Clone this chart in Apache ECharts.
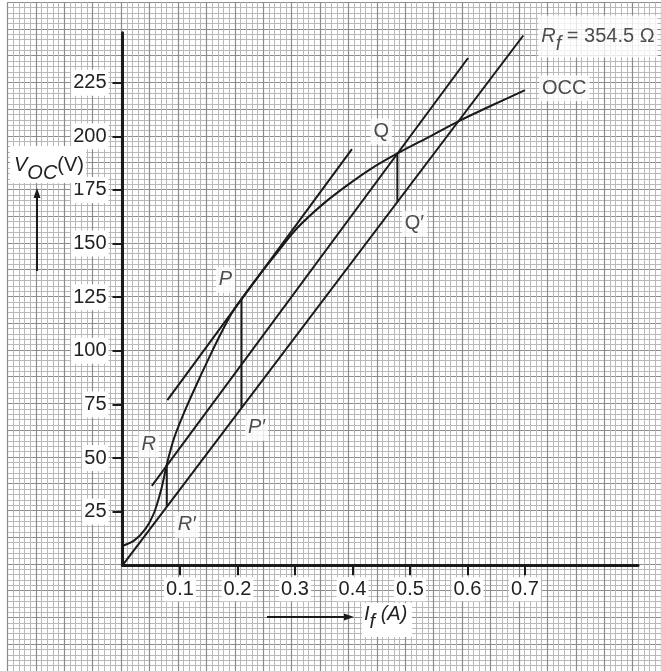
<!DOCTYPE html>
<html>
<head>
<meta charset="utf-8">
<script src="https://cdn.jsdelivr.net/npm/echarts@6/dist/echarts.min.js"></script>
<style>
html,body{margin:0;padding:0;background:#fff;}
#chart{width:661px;height:671px;}
</style>
</head>
<body>
<div id="chart"></div>
<script>
// ---- data ----
const occI = [0, 0.02, 0.04, 0.055, 0.068, 0.077, 0.09, 0.11, 0.13, 0.15, 0.17, 0.19, 0.207, 0.24, 0.265, 0.303, 0.349, 0.39, 0.43, 0.478, 0.535, 0.584, 0.639, 0.7];
const occV = [9, 11.5, 17, 24.5, 36, 47, 59.5, 73, 85, 96.5, 107.5, 117.5, 124.2, 136, 144.5, 157, 168.5, 177, 184.5, 192, 200, 207, 214, 221.5];
const rfI = [0, 0.697];
const rfV = [0, 247];
const midI = [0.051, 0.601];
const midV = [37, 236.5];
const tanI = [0.078, 0.399];
const tanV = [77, 194];
const ptNames = ['R', 'R′', 'P', 'P′', 'Q', 'Q′'];
const ptI = [0.077, 0.077, 0.207, 0.207, 0.478, 0.478];
const ptV = [46.5, 27.3, 124.2, 73.4, 192, 169.5];
const xTicks = [0.1, 0.2, 0.3, 0.4, 0.5, 0.6, 0.7];
const yTicks = [25, 50, 75, 100, 125, 150, 175, 200, 225];

// ---- styles ----
const FONT = '"Liberation Sans", Arial, sans-serif';
const FS = 20;
const TXT = '#222';
const INK = '#1a1a1a';
const pairs = (a, b) => a.map((v, i) => [v, b[i]]);

const labelOffsets = {
  'R': [-18, -21], 'R′': [20, 18], 'P': [-16, -19], 'P′': [15, 20], 'Q': [-16, -22], 'Q′': [17, 22]
};
const italicNames = {'R': 1, 'R′': 1, 'P': 1, 'P′': 1};

const labelData = ptNames.map((n, i) => ({
  value: [ptI[i], ptV[i]],
  label: {
    show: true, position: 'inside', offset: labelOffsets[n],
    formatter: n, fontStyle: italicNames[n] ? 'italic' : 'normal'
  }
}));
labelData.push({
  value: [rfI[1], rfV[1]],
  label: {show: true, position: 'right', distance: 15, offset: [0, 1],
    formatter: '{i|R}{s|f}{n| = 354.5 Ω}'}
});
labelData.push({
  value: [occI[occI.length - 1], occV[occV.length - 1]],
  label: {show: true, position: 'right', distance: 14, offset: [0, -2], formatter: 'OCC'}
});

const lineSeries = (name, data, extra) => Object.assign({
  name, type: 'line', xAxisIndex: 1, yAxisIndex: 1, data,
  showSymbol: false, symbol: 'none', silent: true, z: 3,
  lineStyle: {color: INK, width: 2}
}, extra || {});

const sub = {fontSize: FS, fontStyle: 'italic', color: TXT, fill: TXT, fontFamily: FONT, padding: [16, 0, 0, 0]};
const ital = {fontSize: FS, fontStyle: 'italic', color: TXT, fill: TXT, fontFamily: FONT};
const norm = {fontSize: FS, color: TXT, fill: TXT, fontFamily: FONT};

const chart = echarts.init(document.getElementById('chart'), null, {renderer: 'canvas'});
chart.setOption({
  animation: false,
  backgroundColor: '#fff',
  textStyle: {fontFamily: FONT},
  grid: [
    {left: 7.5, right: -7.75, top: 2.24, bottom: -1.55},
    {left: 122.5, width: 515.5, top: 32.7, height: 532.6}
  ],
  xAxis: [
    {gridIndex: 0, type: 'value', min: -0.2, max: 0.95, interval: 0.05,
      axisLine: {show: false}, axisTick: {show: false}, axisLabel: {show: false},
      splitLine: {show: true, lineStyle: {color: '#8c8c8c', width: 1.2}},
      minorTick: {show: false, splitNumber: 5},
      minorSplitLine: {show: true, lineStyle: {color: '#b9b9b9', width: 1}}},
    {gridIndex: 1, type: 'value', min: 0, max: 0.8965,
      axisLine: {show: true, onZero: false, lineStyle: {color: INK, width: 3}},
      axisTick: {show: true, customValues: xTicks, length: 10, lineStyle: {color: INK, width: 2}},
      axisLabel: {show: true, customValues: xTicks, margin: 12, fontSize: FS, color: TXT,
        fontFamily: FONT, backgroundColor: '#fff', padding: [2, 2]},
      splitLine: {show: false}}
  ],
  yAxis: [
    {gridIndex: 0, type: 'value', min: -50, max: 262.5, interval: 12.5,
      axisLine: {show: false}, axisTick: {show: false}, axisLabel: {show: false},
      splitLine: {show: true, lineStyle: {color: '#8c8c8c', width: 1.2}},
      minorTick: {show: false, splitNumber: 5},
      minorSplitLine: {show: true, lineStyle: {color: '#b9b9b9', width: 1}}},
    {gridIndex: 1, type: 'value', min: 0, max: 248.3,
      axisLine: {show: true, onZero: false, lineStyle: {color: INK, width: 3}},
      axisTick: {show: true, customValues: yTicks, length: 10, lineStyle: {color: INK, width: 2}},
      axisLabel: {show: true, customValues: yTicks, margin: 14, fontSize: FS, color: TXT,
        fontFamily: FONT, backgroundColor: '#fff', padding: [3, 2]},
      splitLine: {show: false}}
  ],
  series: [
    lineSeries('OCC', pairs(occI, occV), {smooth: 0.25}),
    lineSeries('Rf', pairs(rfI, rfV)),
    lineSeries('mid', pairs(midI, midV)),
    lineSeries('tangent', pairs(tanI, tanV)),
    lineSeries('RR', [[ptI[0], ptV[0]], [ptI[1], ptV[1]]]),
    lineSeries('PP', [[ptI[2], ptV[2]], [ptI[3], ptV[3]]]),
    lineSeries('QQ', [[ptI[4], ptV[4]], [ptI[5], ptV[5]]]),
    {
      name: 'labels', type: 'scatter', xAxisIndex: 1, yAxisIndex: 1, symbolSize: 0, z: 5, silent: true,
      data: labelData,
      label: {
        show: true, fontSize: FS, color: TXT, fontFamily: FONT,
        backgroundColor: '#fff', padding: [3, 3],
        rich: {i: ital, s: sub, n: norm}
      }
    }
  ],
  graphic: [
    {type: 'rect', z: 9, shape: {x: 10, y: 146, width: 76, height: 37}, style: {fill: '#fff'}},
    {type: 'text', left: 14, top: 155, z: 10,
      style: {text: '{i|V}{s|OC}{n|(V)}', fill: TXT,
        rich: {i: ital, s: sub, n: norm}}},
    {type: 'line', z: 10, shape: {x1: 37, y1: 271, x2: 37, y2: 196}, style: {stroke: INK, lineWidth: 2}},
    {type: 'polygon', z: 10, shape: {points: [[37, 188], [33.5, 198], [40.5, 198]]}, style: {fill: INK}},
    {type: 'line', z: 10, shape: {x1: 267, y1: 617, x2: 346, y2: 617}, style: {stroke: INK, lineWidth: 2}},
    {type: 'polygon', z: 10, shape: {points: [[354, 617], [344, 613.5], [344, 620.5]]}, style: {fill: INK}},
    {type: 'rect', z: 9, shape: {x: 362, y: 603, width: 50, height: 34}, style: {fill: '#fff'}},
    {type: 'text', left: 364, top: 604, z: 10,
      style: {text: '{i|I}{s|f }{i|(A)}', fill: TXT,
        rich: {i: ital, s: sub}}}
  ]
});
</script>
</body>
</html>
